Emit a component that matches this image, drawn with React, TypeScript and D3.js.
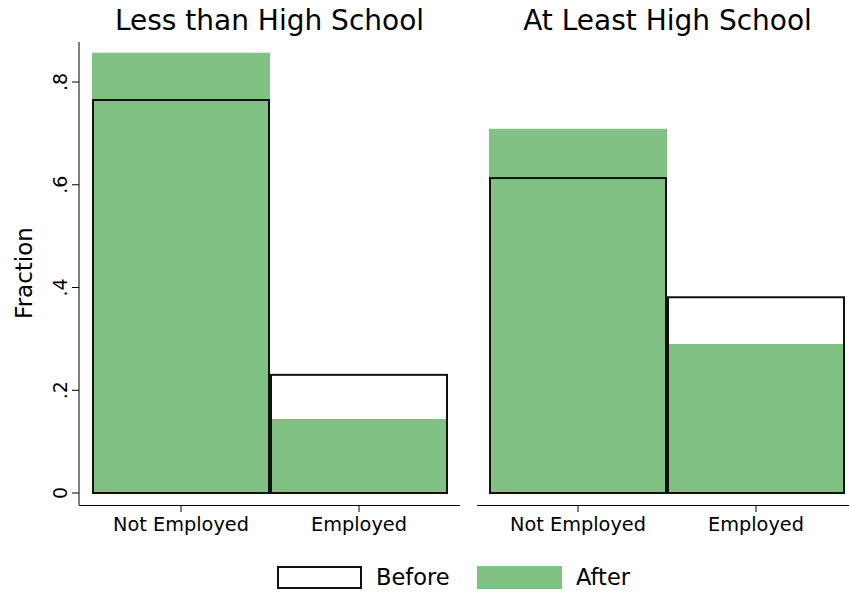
import React from "react";
import * as d3 from "d3";

const panels = ["Less than High School", "At Least High School"];
const categories = ["Not Employed", "Employed"];
const beforeValues = [
  [0.765, 0.23],
  [0.613, 0.381],
];
const afterValues = [
  [0.857, 0.144],
  [0.709, 0.29],
];
const yTicks = [0, 0.2, 0.4, 0.6, 0.8];
const yTickLabels = ["0", ".2", ".4", ".6", ".8"];
const legendItems = ["Before", "After"];

const GREEN = "#81c184";
const FONT = "DejaVu Sans, sans-serif";

export default function App() {
  const W = 849;
  const H = 595;
  const y = d3.scaleLinear().domain([0, 0.8]).range([493, 82]);
  const panelRanges: [number, number][] = [
    [79, 460],
    [477, 858],
  ];
  const barRanges: [number, number][] = [
    [92, 448],
    [489, 845],
  ];

  return (
    <svg width={W} height={H} style={{ display: "block", position: "absolute", left: 0, top: 0 }} fontFamily={FONT}>
      <rect width={W} height={H} fill="#fff" />
      {/* y axis */}
      <line x1={79} x2={79} y1={42} y2={505} stroke="#000" strokeWidth={1} />
      {yTicks.map((t, i) => (
        <g key={i}>
          <line x1={72} x2={79} y1={y(t)} y2={y(t)} stroke="#000" strokeWidth={1} />
          <text
            transform={`translate(67,${y(t)}) rotate(-90)`}
            textAnchor="middle"
            fontSize={19}
            fill="#000"
          >
            {yTickLabels[i]}
          </text>
        </g>
      ))}
      <text transform={`translate(32,273) rotate(-90)`} textAnchor="middle" fontSize={23} fill="#000">
        Fraction
      </text>
      {panels.map((p, pi) => {
        const x = d3
          .scaleBand()
          .domain(categories)
          .range(barRanges[pi])
          .paddingInner(0)
          .paddingOuter(0);
        const [a0, a1] = panelRanges[pi];
        return (
          <g key={p}>
            <text x={(a0 + a1) / 2} y={30} textAnchor="middle" fontSize={28} fill="#000">
              {p}
            </text>
            <line x1={a0} x2={a1} y1={505.5} y2={505.5} stroke="#000" strokeWidth={1} />
            {categories.map((c, ci) => {
              const bx = x(c)!;
              const bw = x.bandwidth();
              const cx = bx + bw / 2;
              return (
                <g key={c}>
                  <rect
                    x={bx}
                    y={y(afterValues[pi][ci])}
                    width={bw}
                    height={y(0) - y(afterValues[pi][ci])}
                    fill={GREEN}
                  />
                  <line x1={cx} x2={cx} y1={505.5} y2={512} stroke="#000" strokeWidth={1} />
                  <text x={cx} y={531} textAnchor="middle" fontSize={19.3} fill="#000">
                    {c}
                  </text>
                </g>
              );
            })}
            {categories.map((c, ci) => {
              const bx = x(c)!;
              const bw = x.bandwidth();
              return (
                <rect
                  key={c + "b"}
                  x={bx + 1}
                  y={y(beforeValues[pi][ci])}
                  width={bw - 2}
                  height={y(0) - y(beforeValues[pi][ci])}
                  fill="none"
                  stroke="#111"
                  strokeWidth={2}
                />
              );
            })}
          </g>
        );
      })}
      {/* legend */}
      <rect x={278} y={567} width={83} height={21} fill="#fff" stroke="#111" strokeWidth={2} />
      <text x={376} y={585} fontSize={22.5} fill="#000">
        {legendItems[0]}
      </text>
      <rect x={477} y={566} width={85} height={23} fill={GREEN} />
      <text x={576} y={585} fontSize={22.5} fill="#000">
        {legendItems[1]}
      </text>
    </svg>
  );
}
